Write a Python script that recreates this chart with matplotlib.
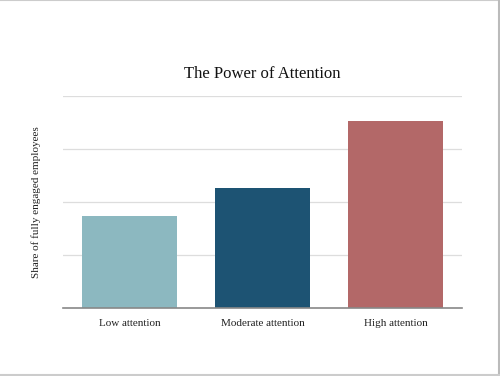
import matplotlib.pyplot as plt
from matplotlib.lines import Line2D

categories = ["Low attention", "Moderate attention", "High attention"]
values = [17.4, 22.6, 35.3]
colors = ["#8cb8c0", "#1d5373", "#b36868"]
grid_ticks = [0, 10, 20, 30, 40]

plt.rcParams["font.family"] = ["Liberation Serif", "DejaVu Serif"]

fig = plt.figure(figsize=(5, 3.76), dpi=100)
ax = fig.add_axes([63 / 500, 1 - 308 / 376, 399 / 500, 212 / 376])

ax.bar(range(len(categories)), values, width=0.715, color=colors, zorder=3)
ax.set_xlim(-0.5, 2.5)
ax.set_ylim(0, 40)
ax.set_yticks(grid_ticks)
ax.set_yticklabels([])
ax.tick_params(axis="y", length=0)
ax.tick_params(axis="x", length=0, pad=8, labelsize=8, colors="#222222")
ax.set_xticks(range(len(categories)))
ax.set_xticklabels(categories)
ax.grid(axis="y", color="#dddddd", linewidth=0.9, zorder=0)
for s in ["top", "right", "left"]:
    ax.spines[s].set_visible(False)
ax.spines["bottom"].set_color("#888888")
ax.spines["bottom"].set_linewidth(1.2)
ax.spines["bottom"].set_zorder(4)

ax.set_ylabel("Share of fully engaged employees", fontsize=8, color="#222222", labelpad=12)
fig.text(0.524, 1 - 74 / 376, "The Power of Attention", ha="center", va="center",
         fontsize=12, color="#111111")

# thin grey frame on top, right and bottom
fig.add_artist(Line2D([0, 1], [0.999, 0.999], transform=fig.transFigure, color="#cccccc", lw=1.5))
fig.add_artist(Line2D([0.997, 0.997], [0, 1], transform=fig.transFigure, color="#bbbbbb", lw=1.5))
fig.add_artist(Line2D([0, 1], [0.002, 0.002], transform=fig.transFigure, color="#cccccc", lw=1.5))

fig.savefig("out.png", dpi=100)
